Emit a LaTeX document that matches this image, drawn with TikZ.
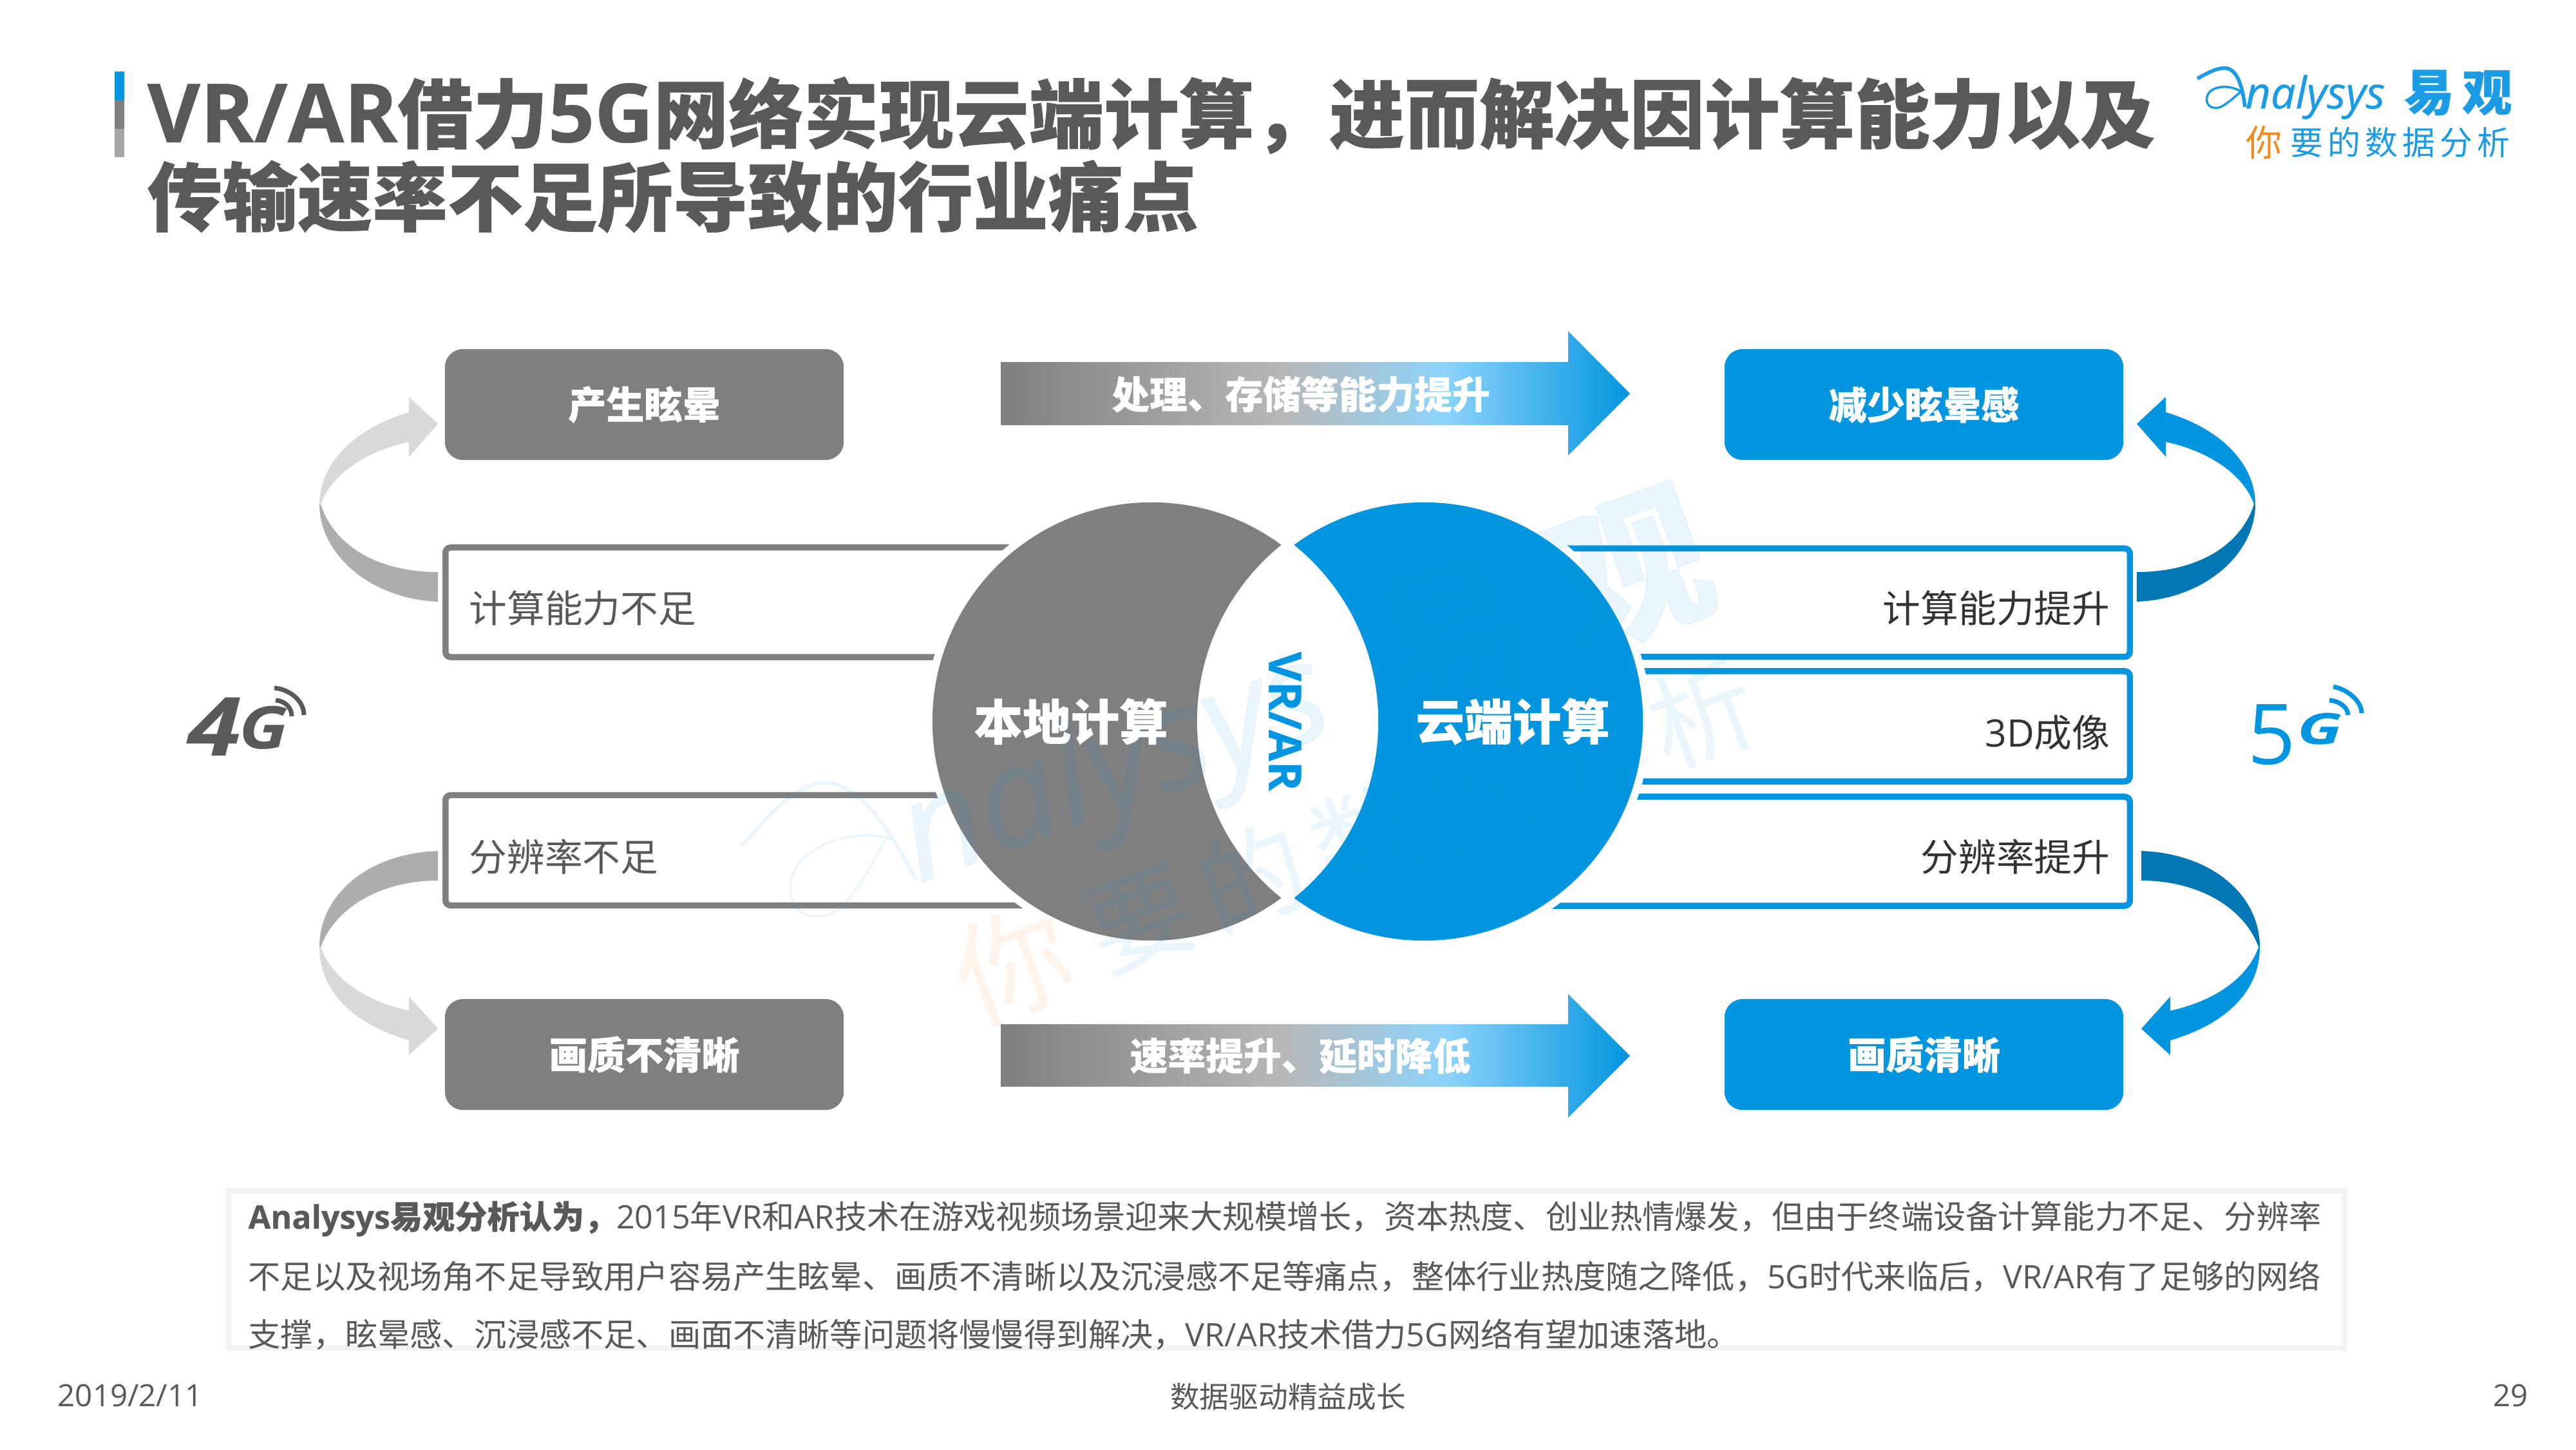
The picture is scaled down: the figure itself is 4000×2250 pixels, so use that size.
\documentclass[tikz,border=0pt]{standalone}
\usepackage{fontspec}
\setmainfont[BoldFeatures={FakeBold=0.6}]{Noto Sans CJK SC}
\newfontfamily\lat[BoldFeatures={FakeBold=0.4}]{Open Sans}
\newfontfamily\logolat[FakeBold=0.5]{Open Sans}
\usepackage{tikz}
\definecolor{avblue}{HTML}{0395DF}
\definecolor{avdeep}{HTML}{0277B3}
\definecolor{avgrey}{HTML}{7F7F7F}
\definecolor{avpale}{HTML}{D9D9D9}
\definecolor{avmid}{HTML}{ADADAD}
\definecolor{fadegrey}{HTML}{B8B8B8}
\definecolor{fadeblue}{HTML}{8DD3FA}
\definecolor{txtgrey}{HTML}{595959}
\definecolor{txtdark}{HTML}{333333}
\definecolor{logoblue}{HTML}{1A9BE3}
\definecolor{logoorange}{HTML}{F28A20}
\pgfdeclarehorizontalshading{arrowfade}{100bp}{color(0bp)=(avgrey);color(25bp)=(avgrey);color(47.4bp)=(fadegrey);color(60.2bp)=(fadeblue);color(75bp)=(avblue);color(100bp)=(avblue)}
\newcommand{\titlelat}[1]{{\fontsize{36pt}{36pt}\selectfont\lat #1}}
\tikzset{
  every node/.style={inner sep=0pt,execute at begin node=\rule[-0.08em]{0pt}{0.92em}},
  greybox/.style={fill=avgrey,text=white,rounded corners=0.28cm,minimum width=6.19cm,minimum height=1.72cm,font=\fontsize{16.8pt}{18pt}\selectfont\bfseries},
  bluebox/.style={greybox,fill=avblue},
  greyline/.style={draw=avgrey,line width=2.7pt,rounded corners=0.08cm,minimum width=10.08cm,anchor=west},
  blueline/.style={draw=avblue,line width=2.7pt,rounded corners=0.08cm,minimum width=10.07cm,anchor=east},
  lefttext/.style={anchor=west,text=txtgrey,font=\fontsize{16.7pt}{18pt}\selectfont},
  righttext/.style={anchor=east,text=txtdark,font=\fontsize{16.7pt}{18pt}\selectfont},
  fadetext/.style={text=white,font=\fontsize{16.7pt}{18pt}\selectfont\bfseries},
  moontext/.style={text=white,font=\fontsize{21.4pt}{24pt}\selectfont\bfseries},
  bodytext/.style={anchor=west,text=txtgrey,font=\fontsize{14.27pt}{16pt}\selectfont},
  foottext/.style={text=txtgrey,font=\fontsize{13pt}{15pt}\selectfont},
  titletext/.style={anchor=west,text=txtgrey,font=\fontsize{33.15pt}{36pt}\selectfont\bfseries},
}
\newcommand{\swingup}[2]{
  \fill[#2] (680,888) .. controls (590,888) and (520,850) .. (498,783) -- (496,783) .. controls (496,860) and (575,930) .. (680,934) -- cycle;
  \fill[#1] (498,783) .. controls (515,735) and (570,700) .. (635,686) -- (635,709) -- (680,658) -- (635,616) -- (635,640) .. controls (550,665) and (496,720) .. (496,783) -- cycle;
}
\newcommand{\swingdown}[2]{
  \fill[#2] (680,1367) .. controls (590,1367) and (520,1410) .. (498,1470) -- (496,1470) .. controls (496,1390) and (570,1325) .. (680,1321) -- cycle;
  \fill[#1] (498,1470) .. controls (515,1520) and (570,1555) .. (635,1569) -- (635,1547) -- (680,1597) -- (635,1638) -- (635,1615) .. controls (550,1590) and (496,1540) .. (496,1470) -- cycle;
}
\newcommand{\analysyslogo}{
  \begin{scope}[shift={(-3658,-175)}]
    \draw[logoblue,line width=1.6pt] (3412,122) .. controls (3430,112) and (3445,104) .. (3458,106) .. controls (3475,110) and (3482,135) .. (3486,166);
    \draw[logoblue,line width=1pt] (3482,144) .. controls (3465,130) and (3432,132) .. (3427,150) .. controls (3423,166) and (3440,172) .. (3452,164) .. controls (3465,156) and (3472,148) .. (3479,143);
    \node[anchor=west,text=logoblue,font=\fontsize{19.4pt}{20pt}\selectfont\logolat\itshape] (logoname) at (3486,148) {nalysys};
    \node[text=logoblue,font=\fontsize{22pt}{24pt}\selectfont\bfseries] (logoyi) at (3772,143) {易};
    \node[text=logoblue,font=\fontsize{22pt}{24pt}\selectfont\bfseries] (logoguan) at (3862,143) {观};
    \node[text=logoorange,font=\fontsize{16pt}{18pt}\selectfont] (logoni) at (3516,221) {你};
    \foreach \ch [count=\i] in {要,的,数,据,分,析}
      \node[text=logoblue,font=\fontsize{14.5pt}{16pt}\selectfont] (logo\i) at (3524+58*\i,221) {\ch};
  \end{scope}
}
\begin{document}
\begin{tikzpicture}[x=0.01cm,y=-0.01cm]
\useasboundingbox (0,0) rectangle (4000,2250);

\fill[avblue] (178,111) rectangle (193,155);
\fill[avgrey] (178,155) rectangle (193,200);
\fill[black!35] (178,200) rectangle (193,244);
\node[titletext] (titleone) at (228,179) {\titlelat{VR/AR}借力\titlelat{5G}网络实现云端计算，进而解决因计算能力以及};
\node[titletext] (titletwo) at (228,305) {传输速率不足所导致的行业痛点};
\begin{scope}[shift={(3658,175)}]
  \analysyslogo
\end{scope}

\node[greybox] (dizzy) at (1000.5,628) {产生眩晕};
\node[greybox] (blurry) at (1000.5,1637) {画质不清晰};
\node[bluebox] (lessdizzy) at (2987.5,628) {减少眩晕感};
\node[bluebox] (clear) at (2987.5,1637) {画质清晰};

\node[greyline,minimum height=1.70cm] (lowpower) at (687,935) {};
\node[greyline,minimum height=1.71cm] (lowres) at (687,1320) {};
\node[blueline,minimum height=1.68cm] (highpower) at (3312,935.5) {};
\node[blueline,minimum height=1.71cm] (threed) at (3312,1127.5) {};
\node[blueline,minimum height=1.69cm] (highres) at (3312,1321.5) {};
\node[lefttext] at ([shift={(41,9)}]lowpower.west) {计算能力不足};
\node[lefttext] at ([shift={(41,10)}]lowres.west) {分辨率不足};
\node[righttext] at ([shift={(-35,9)}]highpower.east) {计算能力提升};
\node[righttext] at ([shift={(-35,10)}]threed.east) {{\lat 3D}成像};
\node[righttext] at ([shift={(-35,9)}]highres.east) {分辨率提升};

\shade[shading=arrowfade] (1554,562) -- (2435,562) -- (2435,514) -- (2531,611) -- (2435,707) -- (2435,660) -- (1554,660) -- cycle;
\shade[shading=arrowfade] (1554,1590) -- (2435,1590) -- (2435,1543) -- (2531,1639) -- (2435,1735) -- (2435,1687) -- (1554,1687) -- cycle;
\node[fadetext] (upgrade) at (2020,612) {处理、存储等能力提升};
\node[fadetext] (faster) at (2019,1639) {速率提升、延时降低};

\swingup{avpale}{avmid}
\swingdown{avpale}{avmid}
\begin{scope}[shift={(3998,0)},xscale=-1]
  \swingup{avblue}{avdeep}
\end{scope}
\begin{scope}[shift={(4005,0)},xscale=-1]
  \swingdown{avblue}{avdeep}
\end{scope}

\fill[white] (1788,1120) circle[radius=3.52cm];
\fill[white] (2211,1120) circle[radius=3.52cm];
\fill[avgrey] (1788,1120) circle[radius=3.4cm];
\fill[avblue] (2211,1120) circle[radius=3.4cm];
\begin{scope}
  \clip (1788,1120) circle[radius=3.52cm];
  \fill[white] (2211,1120) circle[radius=3.52cm];
\end{scope}

\begin{scope}[shift={(1949,1204)},rotate=20,scale=3.2,transform shape,opacity=0.09,name prefix=wm-]
  \analysyslogo
\end{scope}

\node[moontext] (local) at (1663,1120) {本地计算};
\node[moontext] (cloud) at (2349,1120) {云端计算};
\node[rotate=-90,text=avblue,font=\fontsize{20pt}{22pt}\selectfont\lat\bfseries] (vrar) at (1997,1120) {VR/AR};

\node[text=txtgrey,font=\fontsize{36pt}{38pt}\selectfont\lat\bfseries\itshape] (four) at (333,1125) {\scalebox{1.2}[1]{4}};
\node[text=txtgrey,font=\fontsize{26pt}{28pt}\selectfont\lat\bfseries\itshape] (fourg) at (409,1128) {\scalebox{1.2}[1]{G}};
\draw[txtgrey,line width=2pt] (426,1068) .. controls (450,1070) and (472,1088) .. (472,1110);
\draw[txtgrey,line width=2pt] (428,1087) .. controls (442,1088) and (453,1098) .. (453,1112);
\node[text=avblue,font=\fontsize{37pt}{40pt}\selectfont\lat] (five) at (3528,1137) {5};
\node[text=avblue,font=\fontsize{19pt}{22pt}\selectfont\lat\bfseries\itshape] (fiveg) at (3602,1130) {\scalebox{1.5}[1]{G}};
\draw[avblue,line width=2pt] (3623,1066) .. controls (3645,1070) and (3667,1088) .. (3667,1107);
\draw[avblue,line width=2pt] (3617,1087) .. controls (3632,1088) and (3646,1098) .. (3646,1110);

\draw[black!5,line width=2.3pt] (355,1849) rectangle (3641,2093);
\node[bodytext] (lineone) at (385,1892) {{\lat\bfseries Analysys}\textbf{易观分析认为，}{\lat 2015}年{\lat VR}和{\lat AR}技术在游戏视频场景迎来大规模增长，资本热度、创业热情爆发，但由于终端设备计算能力不足、分辨率};
\node[bodytext] (linetwo) at (385,1982) {不足以及视场角不足导致用户容易产生眩晕、画质不清晰以及沉浸感不足等痛点，整体行业热度随之降低，{\lat 5G}时代来临后，{\lat VR/AR}有了足够的网络};
\node[bodytext] (linethree) at (385,2072) {支撑，眩晕感、沉浸感不足、画面不清晰等问题将慢慢得到解决，{\lat VR/AR}技术借力{\lat 5G}网络有望加速落地。};

\node[foottext,anchor=west,font=\fontsize{13.5pt}{15pt}\selectfont\lat] (day) at (89,2165) {2019/2/11};
\node[foottext] (motto) at (2000,2168) {数据驱动精益成长};
\node[foottext,anchor=east,font=\fontsize{13.5pt}{15pt}\selectfont\lat] (page) at (3926,2165) {29};
\end{tikzpicture}
\end{document}
